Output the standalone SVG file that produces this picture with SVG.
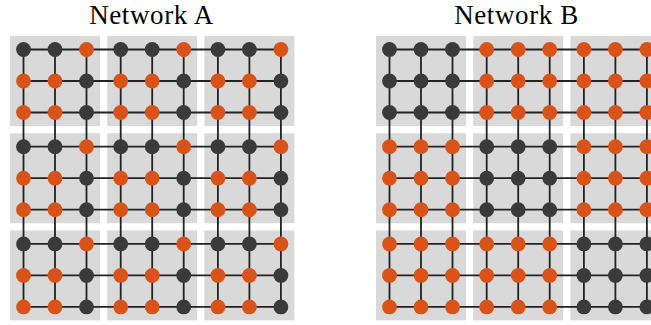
<svg xmlns="http://www.w3.org/2000/svg" width="651" height="325" viewBox="0 0 651 325">
<style>
.blk{fill:#d9d9d9}
.e{stroke:#222;stroke-width:1.8;fill:none}
.o{fill:#d95319}
.d{fill:#3a3a3a}
.t{font-family:"Liberation Serif","Times New Roman",serif;font-size:27px;letter-spacing:0.6px;fill:#000;text-anchor:middle}
</style>
<defs>
<circle id="n" r="7.4"/>
</defs>
<g id="titles">
<text class="t" x="151.5" y="24">Network A</text>
<text class="t" x="516.5" y="24">Network B</text>
</g>
<g id="blocks">
<rect class="blk" x="10" y="36" width="90" height="90"/>
<rect class="blk" x="107.2" y="36" width="90" height="90"/>
<rect class="blk" x="204.4" y="36" width="90" height="90"/>
<rect class="blk" x="10" y="133.2" width="90" height="90"/>
<rect class="blk" x="107.2" y="133.2" width="90" height="90"/>
<rect class="blk" x="204.4" y="133.2" width="90" height="90"/>
<rect class="blk" x="10" y="230.4" width="90" height="90"/>
<rect class="blk" x="107.2" y="230.4" width="90" height="90"/>
<rect class="blk" x="204.4" y="230.4" width="90" height="90"/>
<rect class="blk" x="376" y="36" width="90" height="90"/>
<rect class="blk" x="473.2" y="36" width="90" height="90"/>
<rect class="blk" x="570.4" y="36" width="90" height="90"/>
<rect class="blk" x="376" y="133.2" width="90" height="90"/>
<rect class="blk" x="473.2" y="133.2" width="90" height="90"/>
<rect class="blk" x="570.4" y="133.2" width="90" height="90"/>
<rect class="blk" x="376" y="230.4" width="90" height="90"/>
<rect class="blk" x="473.2" y="230.4" width="90" height="90"/>
<rect class="blk" x="570.4" y="230.4" width="90" height="90"/>
</g>
<g id="connectors" class="e">
<path d="M23.5 49.5H280.9M23.5 81H280.9M23.5 112.5H280.9M23.5 146.7H280.9M23.5 178.2H280.9M23.5 209.7H280.9M23.5 243.9H280.9M23.5 275.4H280.9M23.5 306.9H280.9"/>
<path d="M23.5 49.5V306.9M55 49.5V306.9M86.5 49.5V306.9M120.7 49.5V306.9M152.2 49.5V306.9M183.7 49.5V306.9M217.9 49.5V306.9M249.4 49.5V306.9M280.9 49.5V306.9"/>
<path d="M389.5 49.5H646.9M389.5 81H646.9M389.5 112.5H646.9M389.5 146.7H646.9M389.5 178.2H646.9M389.5 209.7H646.9M389.5 243.9H646.9M389.5 275.4H646.9M389.5 306.9H646.9"/>
<path d="M389.5 49.5V306.9M421 49.5V306.9M452.5 49.5V306.9M486.7 49.5V306.9M518.2 49.5V306.9M549.7 49.5V306.9M583.9 49.5V306.9M615.4 49.5V306.9M646.9 49.5V306.9"/>
</g>
<g id="networkA">
<g id="A1-1"><use href="#n" class="d" x="23.5" y="49.5"/></g><g id="A1-2"><use href="#n" class="d" x="55" y="49.5"/></g><g id="A1-3"><use href="#n" class="o" x="86.5" y="49.5"/></g><g id="A1-4"><use href="#n" class="d" x="120.7" y="49.5"/></g><g id="A1-5"><use href="#n" class="d" x="152.2" y="49.5"/></g><g id="A1-6"><use href="#n" class="o" x="183.7" y="49.5"/></g><g id="A1-7"><use href="#n" class="d" x="217.9" y="49.5"/></g><g id="A1-8"><use href="#n" class="d" x="249.4" y="49.5"/></g><g id="A1-9"><use href="#n" class="o" x="280.9" y="49.5"/></g>
<g id="A2-1"><use href="#n" class="o" x="23.5" y="81"/></g><g id="A2-2"><use href="#n" class="o" x="55" y="81"/></g><g id="A2-3"><use href="#n" class="d" x="86.5" y="81"/></g><g id="A2-4"><use href="#n" class="o" x="120.7" y="81"/></g><g id="A2-5"><use href="#n" class="o" x="152.2" y="81"/></g><g id="A2-6"><use href="#n" class="d" x="183.7" y="81"/></g><g id="A2-7"><use href="#n" class="o" x="217.9" y="81"/></g><g id="A2-8"><use href="#n" class="o" x="249.4" y="81"/></g><g id="A2-9"><use href="#n" class="d" x="280.9" y="81"/></g>
<g id="A3-1"><use href="#n" class="o" x="23.5" y="112.5"/></g><g id="A3-2"><use href="#n" class="o" x="55" y="112.5"/></g><g id="A3-3"><use href="#n" class="d" x="86.5" y="112.5"/></g><g id="A3-4"><use href="#n" class="o" x="120.7" y="112.5"/></g><g id="A3-5"><use href="#n" class="o" x="152.2" y="112.5"/></g><g id="A3-6"><use href="#n" class="d" x="183.7" y="112.5"/></g><g id="A3-7"><use href="#n" class="o" x="217.9" y="112.5"/></g><g id="A3-8"><use href="#n" class="o" x="249.4" y="112.5"/></g><g id="A3-9"><use href="#n" class="d" x="280.9" y="112.5"/></g>
<g id="A4-1"><use href="#n" class="d" x="23.5" y="146.7"/></g><g id="A4-2"><use href="#n" class="d" x="55" y="146.7"/></g><g id="A4-3"><use href="#n" class="o" x="86.5" y="146.7"/></g><g id="A4-4"><use href="#n" class="d" x="120.7" y="146.7"/></g><g id="A4-5"><use href="#n" class="d" x="152.2" y="146.7"/></g><g id="A4-6"><use href="#n" class="o" x="183.7" y="146.7"/></g><g id="A4-7"><use href="#n" class="d" x="217.9" y="146.7"/></g><g id="A4-8"><use href="#n" class="d" x="249.4" y="146.7"/></g><g id="A4-9"><use href="#n" class="o" x="280.9" y="146.7"/></g>
<g id="A5-1"><use href="#n" class="o" x="23.5" y="178.2"/></g><g id="A5-2"><use href="#n" class="o" x="55" y="178.2"/></g><g id="A5-3"><use href="#n" class="d" x="86.5" y="178.2"/></g><g id="A5-4"><use href="#n" class="o" x="120.7" y="178.2"/></g><g id="A5-5"><use href="#n" class="o" x="152.2" y="178.2"/></g><g id="A5-6"><use href="#n" class="d" x="183.7" y="178.2"/></g><g id="A5-7"><use href="#n" class="o" x="217.9" y="178.2"/></g><g id="A5-8"><use href="#n" class="o" x="249.4" y="178.2"/></g><g id="A5-9"><use href="#n" class="d" x="280.9" y="178.2"/></g>
<g id="A6-1"><use href="#n" class="o" x="23.5" y="209.7"/></g><g id="A6-2"><use href="#n" class="o" x="55" y="209.7"/></g><g id="A6-3"><use href="#n" class="d" x="86.5" y="209.7"/></g><g id="A6-4"><use href="#n" class="o" x="120.7" y="209.7"/></g><g id="A6-5"><use href="#n" class="o" x="152.2" y="209.7"/></g><g id="A6-6"><use href="#n" class="d" x="183.7" y="209.7"/></g><g id="A6-7"><use href="#n" class="o" x="217.9" y="209.7"/></g><g id="A6-8"><use href="#n" class="o" x="249.4" y="209.7"/></g><g id="A6-9"><use href="#n" class="d" x="280.9" y="209.7"/></g>
<g id="A7-1"><use href="#n" class="d" x="23.5" y="243.9"/></g><g id="A7-2"><use href="#n" class="d" x="55" y="243.9"/></g><g id="A7-3"><use href="#n" class="o" x="86.5" y="243.9"/></g><g id="A7-4"><use href="#n" class="d" x="120.7" y="243.9"/></g><g id="A7-5"><use href="#n" class="d" x="152.2" y="243.9"/></g><g id="A7-6"><use href="#n" class="o" x="183.7" y="243.9"/></g><g id="A7-7"><use href="#n" class="d" x="217.9" y="243.9"/></g><g id="A7-8"><use href="#n" class="d" x="249.4" y="243.9"/></g><g id="A7-9"><use href="#n" class="o" x="280.9" y="243.9"/></g>
<g id="A8-1"><use href="#n" class="o" x="23.5" y="275.4"/></g><g id="A8-2"><use href="#n" class="o" x="55" y="275.4"/></g><g id="A8-3"><use href="#n" class="d" x="86.5" y="275.4"/></g><g id="A8-4"><use href="#n" class="o" x="120.7" y="275.4"/></g><g id="A8-5"><use href="#n" class="o" x="152.2" y="275.4"/></g><g id="A8-6"><use href="#n" class="d" x="183.7" y="275.4"/></g><g id="A8-7"><use href="#n" class="o" x="217.9" y="275.4"/></g><g id="A8-8"><use href="#n" class="o" x="249.4" y="275.4"/></g><g id="A8-9"><use href="#n" class="d" x="280.9" y="275.4"/></g>
<g id="A9-1"><use href="#n" class="o" x="23.5" y="306.9"/></g><g id="A9-2"><use href="#n" class="o" x="55" y="306.9"/></g><g id="A9-3"><use href="#n" class="d" x="86.5" y="306.9"/></g><g id="A9-4"><use href="#n" class="o" x="120.7" y="306.9"/></g><g id="A9-5"><use href="#n" class="o" x="152.2" y="306.9"/></g><g id="A9-6"><use href="#n" class="d" x="183.7" y="306.9"/></g><g id="A9-7"><use href="#n" class="o" x="217.9" y="306.9"/></g><g id="A9-8"><use href="#n" class="o" x="249.4" y="306.9"/></g><g id="A9-9"><use href="#n" class="d" x="280.9" y="306.9"/></g>
</g>
<g id="networkB">
<g id="B1-1"><use href="#n" class="d" x="389.5" y="49.5"/></g><g id="B1-2"><use href="#n" class="d" x="421" y="49.5"/></g><g id="B1-3"><use href="#n" class="d" x="452.5" y="49.5"/></g><g id="B1-4"><use href="#n" class="o" x="486.7" y="49.5"/></g><g id="B1-5"><use href="#n" class="o" x="518.2" y="49.5"/></g><g id="B1-6"><use href="#n" class="o" x="549.7" y="49.5"/></g><g id="B1-7"><use href="#n" class="o" x="583.9" y="49.5"/></g><g id="B1-8"><use href="#n" class="o" x="615.4" y="49.5"/></g><g id="B1-9"><use href="#n" class="o" x="646.9" y="49.5"/></g>
<g id="B2-1"><use href="#n" class="d" x="389.5" y="81"/></g><g id="B2-2"><use href="#n" class="d" x="421" y="81"/></g><g id="B2-3"><use href="#n" class="d" x="452.5" y="81"/></g><g id="B2-4"><use href="#n" class="o" x="486.7" y="81"/></g><g id="B2-5"><use href="#n" class="o" x="518.2" y="81"/></g><g id="B2-6"><use href="#n" class="o" x="549.7" y="81"/></g><g id="B2-7"><use href="#n" class="o" x="583.9" y="81"/></g><g id="B2-8"><use href="#n" class="o" x="615.4" y="81"/></g><g id="B2-9"><use href="#n" class="o" x="646.9" y="81"/></g>
<g id="B3-1"><use href="#n" class="d" x="389.5" y="112.5"/></g><g id="B3-2"><use href="#n" class="d" x="421" y="112.5"/></g><g id="B3-3"><use href="#n" class="d" x="452.5" y="112.5"/></g><g id="B3-4"><use href="#n" class="o" x="486.7" y="112.5"/></g><g id="B3-5"><use href="#n" class="o" x="518.2" y="112.5"/></g><g id="B3-6"><use href="#n" class="o" x="549.7" y="112.5"/></g><g id="B3-7"><use href="#n" class="o" x="583.9" y="112.5"/></g><g id="B3-8"><use href="#n" class="o" x="615.4" y="112.5"/></g><g id="B3-9"><use href="#n" class="o" x="646.9" y="112.5"/></g>
<g id="B4-1"><use href="#n" class="o" x="389.5" y="146.7"/></g><g id="B4-2"><use href="#n" class="o" x="421" y="146.7"/></g><g id="B4-3"><use href="#n" class="o" x="452.5" y="146.7"/></g><g id="B4-4"><use href="#n" class="d" x="486.7" y="146.7"/></g><g id="B4-5"><use href="#n" class="d" x="518.2" y="146.7"/></g><g id="B4-6"><use href="#n" class="d" x="549.7" y="146.7"/></g><g id="B4-7"><use href="#n" class="o" x="583.9" y="146.7"/></g><g id="B4-8"><use href="#n" class="o" x="615.4" y="146.7"/></g><g id="B4-9"><use href="#n" class="o" x="646.9" y="146.7"/></g>
<g id="B5-1"><use href="#n" class="o" x="389.5" y="178.2"/></g><g id="B5-2"><use href="#n" class="o" x="421" y="178.2"/></g><g id="B5-3"><use href="#n" class="o" x="452.5" y="178.2"/></g><g id="B5-4"><use href="#n" class="d" x="486.7" y="178.2"/></g><g id="B5-5"><use href="#n" class="d" x="518.2" y="178.2"/></g><g id="B5-6"><use href="#n" class="d" x="549.7" y="178.2"/></g><g id="B5-7"><use href="#n" class="o" x="583.9" y="178.2"/></g><g id="B5-8"><use href="#n" class="o" x="615.4" y="178.2"/></g><g id="B5-9"><use href="#n" class="o" x="646.9" y="178.2"/></g>
<g id="B6-1"><use href="#n" class="o" x="389.5" y="209.7"/></g><g id="B6-2"><use href="#n" class="o" x="421" y="209.7"/></g><g id="B6-3"><use href="#n" class="o" x="452.5" y="209.7"/></g><g id="B6-4"><use href="#n" class="d" x="486.7" y="209.7"/></g><g id="B6-5"><use href="#n" class="d" x="518.2" y="209.7"/></g><g id="B6-6"><use href="#n" class="d" x="549.7" y="209.7"/></g><g id="B6-7"><use href="#n" class="o" x="583.9" y="209.7"/></g><g id="B6-8"><use href="#n" class="o" x="615.4" y="209.7"/></g><g id="B6-9"><use href="#n" class="o" x="646.9" y="209.7"/></g>
<g id="B7-1"><use href="#n" class="o" x="389.5" y="243.9"/></g><g id="B7-2"><use href="#n" class="o" x="421" y="243.9"/></g><g id="B7-3"><use href="#n" class="o" x="452.5" y="243.9"/></g><g id="B7-4"><use href="#n" class="o" x="486.7" y="243.9"/></g><g id="B7-5"><use href="#n" class="o" x="518.2" y="243.9"/></g><g id="B7-6"><use href="#n" class="o" x="549.7" y="243.9"/></g><g id="B7-7"><use href="#n" class="d" x="583.9" y="243.9"/></g><g id="B7-8"><use href="#n" class="d" x="615.4" y="243.9"/></g><g id="B7-9"><use href="#n" class="d" x="646.9" y="243.9"/></g>
<g id="B8-1"><use href="#n" class="o" x="389.5" y="275.4"/></g><g id="B8-2"><use href="#n" class="o" x="421" y="275.4"/></g><g id="B8-3"><use href="#n" class="o" x="452.5" y="275.4"/></g><g id="B8-4"><use href="#n" class="o" x="486.7" y="275.4"/></g><g id="B8-5"><use href="#n" class="o" x="518.2" y="275.4"/></g><g id="B8-6"><use href="#n" class="o" x="549.7" y="275.4"/></g><g id="B8-7"><use href="#n" class="d" x="583.9" y="275.4"/></g><g id="B8-8"><use href="#n" class="d" x="615.4" y="275.4"/></g><g id="B8-9"><use href="#n" class="d" x="646.9" y="275.4"/></g>
<g id="B9-1"><use href="#n" class="o" x="389.5" y="306.9"/></g><g id="B9-2"><use href="#n" class="o" x="421" y="306.9"/></g><g id="B9-3"><use href="#n" class="o" x="452.5" y="306.9"/></g><g id="B9-4"><use href="#n" class="o" x="486.7" y="306.9"/></g><g id="B9-5"><use href="#n" class="o" x="518.2" y="306.9"/></g><g id="B9-6"><use href="#n" class="o" x="549.7" y="306.9"/></g><g id="B9-7"><use href="#n" class="d" x="583.9" y="306.9"/></g><g id="B9-8"><use href="#n" class="d" x="615.4" y="306.9"/></g><g id="B9-9"><use href="#n" class="d" x="646.9" y="306.9"/></g>
</g>
</svg>
